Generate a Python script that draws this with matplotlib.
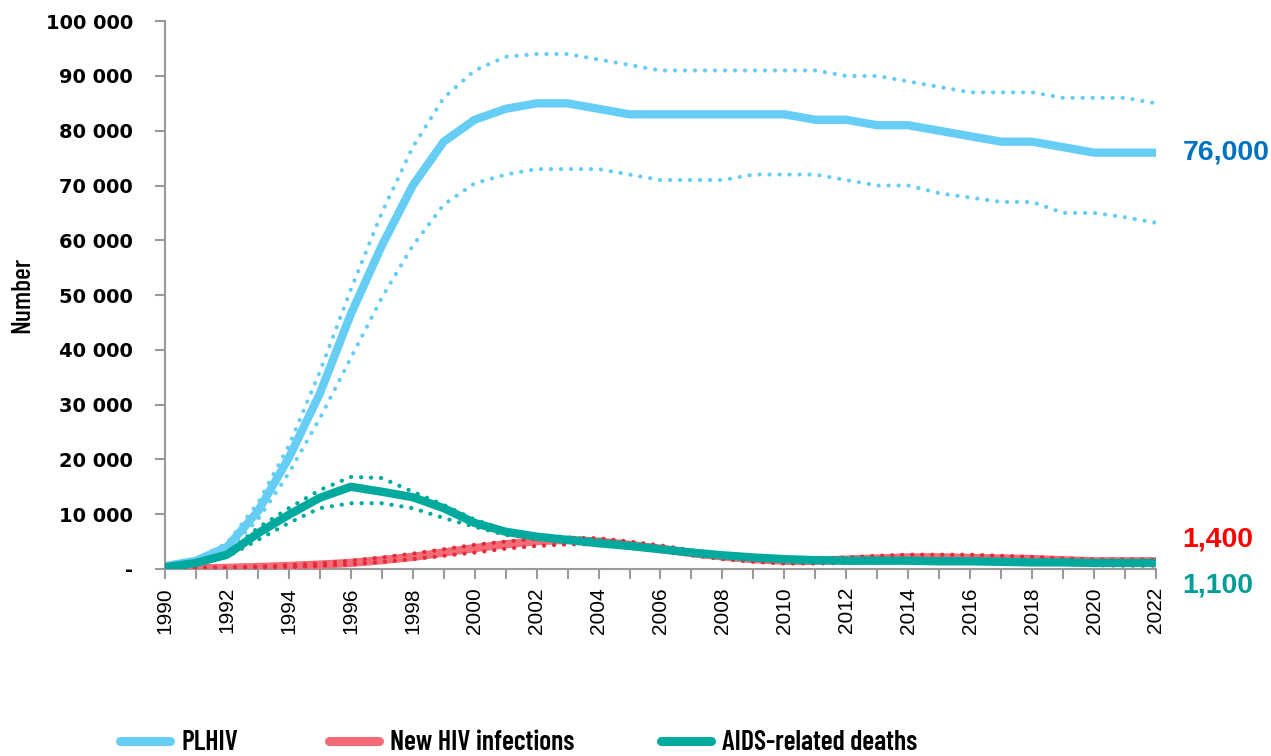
import matplotlib
matplotlib.use("Agg")
import matplotlib.pyplot as plt
from matplotlib.lines import Line2D
from matplotlib.ticker import FixedLocator, MultipleLocator, FuncFormatter

years = list(range(1990, 2023))

plhiv = [500, 1500, 4000, 10500, 20300, 32000, 46500, 59000, 70000, 78000,
         82000, 84000, 85000, 85000, 84000, 83000, 83000, 83000, 83000, 83000,
         83000, 82000, 82000, 81000, 81000, 80000, 79000, 78000, 78000, 77000,
         76000, 76000, 76000]
plhiv_hi = [600, 1800, 4700, 12000, 22500, 36000, 51000, 65000, 77000, 86000,
            91000, 93500, 94000, 94000, 93000, 92000, 91000, 91000, 91000, 91000,
            91000, 91000, 90000, 90000, 89000, 88000, 87000, 87000, 87000, 86000,
            86000, 86000, 85000]
plhiv_lo = [400, 1200, 3400, 9000, 17500, 27500, 38500, 49500, 59000, 66500,
            70400, 72000, 73000, 73000, 73000, 72000, 71000, 71000, 71000, 72000,
            72000, 72000, 71000, 70000, 70000, 68600, 67800, 67000, 67000, 65000,
            65000, 64200, 63200]

new_inf = [0, 100, 200, 350, 550, 800, 1100, 1600, 2200, 3000,
           3800, 4500, 5100, 5300, 5000, 4400, 3700, 2900, 2300, 1800,
           1500, 1500, 1700, 1900, 2100, 2100, 2000, 1900, 1800, 1600,
           1400, 1400, 1400]
new_inf_hi = [100, 200, 300, 450, 700, 1000, 1500, 2100, 2800, 3600,
              4400, 5000, 5500, 5700, 5600, 5000, 4300, 3400, 2700, 2100,
              1900, 1900, 2100, 2400, 2600, 2600, 2600, 2400, 2200, 1900,
              1700, 1700, 1700]
new_inf_lo = [0, 50, 100, 200, 350, 550, 850, 1300, 1800, 2400,
              3000, 3700, 4200, 4500, 4500, 4000, 3300, 2500, 1800, 1300,
              1000, 1000, 1100, 1200, 1300, 1300, 1300, 1200, 1100, 900,
              700, 600, 600]

deaths = [300, 1100, 2600, 6500, 9900, 13000, 15000, 14100, 13100, 11100,
          8400, 6800, 5900, 5300, 4700, 4200, 3600, 3000, 2500, 2100,
          1800, 1600, 1500, 1500, 1500, 1400, 1400, 1300, 1200, 1200,
          1100, 1100, 1100]
deaths_hi = [350, 1200, 2900, 7500, 11100, 14400, 16800, 16600, 14100, 11700,
             9000, 7100, 6200, 5800, 5300, 4600, 3900, 3300, 2700, 2300,
             2000, 1800, 1700, 1700, 1700, 1600, 1600, 1500, 1400, 1400,
             1300, 1300, 1300]
deaths_lo = [250, 900, 2200, 5300, 8400, 11100, 12000, 12000, 11100, 9300,
             7700, 6200, 5600, 4900, 4300, 3800, 3300, 2700, 2300, 1900,
             1600, 1400, 1300, 1300, 1300, 1200, 1200, 1100, 1000, 1000,
             900, 900, 900]

series_names = ["PLHIV", "New HIV infections", "AIDS-related deaths"]
end_labels = ["76,000", "1,400", "1,100"]

C_PLHIV = "#66CDF5"
C_NEW = "#F26B75"
C_NEW_DOT = "#E52A3C"
C_DEATH = "#00A99D"

REG = ["Liberation Sans", "DejaVu Sans"]
NARROW = ["Barlow Condensed", "Liberation Sans", "DejaVu Sans"]

fig = plt.figure(figsize=(12.71, 7.56), dpi=100)
ax = fig.add_axes([0.1298, 0.2474, 0.9095 - 0.1298, 0.972 - 0.2474])

MAIN_LW = 6.0
DOT_LW = 3.0
DOT_STYLE = (0, (0.05, 2.35))


def draw_series(mid, hi, lo, color, dot_color, z):
    ax.plot(years, mid, color=color, lw=MAIN_LW, solid_capstyle="butt",
            solid_joinstyle="round", zorder=z)
    for b in (hi, lo):
        ax.plot(years, b, color=dot_color, lw=DOT_LW, linestyle=DOT_STYLE,
                dash_capstyle="round", zorder=z + 0.5)


draw_series(plhiv, plhiv_hi, plhiv_lo, C_PLHIV, C_PLHIV, 2)
draw_series(new_inf, new_inf_hi, new_inf_lo, C_NEW, C_NEW_DOT, 3)
draw_series(deaths, deaths_hi, deaths_lo, C_DEATH, C_DEATH, 4)

ax.set_xlim(1990, 2022)
ax.set_ylim(0, 100000)

for s in ("top", "right"):
    ax.spines[s].set_visible(False)
for s in ("left", "bottom"):
    ax.spines[s].set_color("#9a9a9a")
    ax.spines[s].set_linewidth(1.5)

ax.yaxis.set_major_locator(MultipleLocator(10000))


def yfmt(v, pos):
    if v == 0:
        return "-"
    return f"{int(v):,}".replace(",", " ")


ax.yaxis.set_major_formatter(FuncFormatter(yfmt))
ax.xaxis.set_major_locator(FixedLocator(years[::2]))
ax.xaxis.set_minor_locator(FixedLocator(years))
ax.tick_params(axis="y", direction="out", length=7, width=1.5, color="#9a9a9a",
               pad=16)
ax.tick_params(axis="x", which="both", direction="out", length=7, width=1.5,
               color="#9a9a9a", pad=6)
for lab in ax.get_yticklabels():
    lab.set_fontfamily(["DejaVu Sans"])
    lab.set_fontweight("bold")
    lab.set_fontsize(14)
for lab in ax.get_xticklabels():
    lab.set_fontfamily(REG)
    lab.set_fontsize(15)
    lab.set_rotation(90)

ax.set_ylabel("Number", fontsize=20, family=NARROW, fontweight=500)
ax.yaxis.set_label_coords(-0.132, 0.5)

# end-of-series value labels
lab_kw = dict(textcoords="offset points", va="center", ha="left",
              fontsize=20.5, fontweight="bold", family=REG,
              annotation_clip=False)
ax.annotate(end_labels[0], xy=(years[-1], plhiv[-1]), xytext=(19, 0),
            color="#0070C0", **lab_kw)
ax.annotate(end_labels[1], xy=(years[-1], new_inf[-1]), xytext=(19, 16),
            color="#FF0000", **lab_kw)
ax.annotate(end_labels[2], xy=(years[-1], deaths[-1]), xytext=(19, -16),
            color="#009E96", **lab_kw)

# legend entries placed individually along the bottom
leg_colors = [C_PLHIV, C_NEW, C_DEATH]
leg_x = [120, 329, 661]
for name, col, x0 in zip(series_names, leg_colors, leg_x):
    h = Line2D([], [], color=col, lw=6.5, solid_capstyle="round")
    fig.legend([h], [name], loc="center left",
               bbox_to_anchor=(x0 / 1271, 1 - 743 / 756), frameon=False,
               prop={"family": NARROW, "size": 20, "weight": 600},
               handlelength=1.8, handletextpad=0.4, borderpad=0,
               borderaxespad=0)

fig.savefig("out.png", dpi=100)
